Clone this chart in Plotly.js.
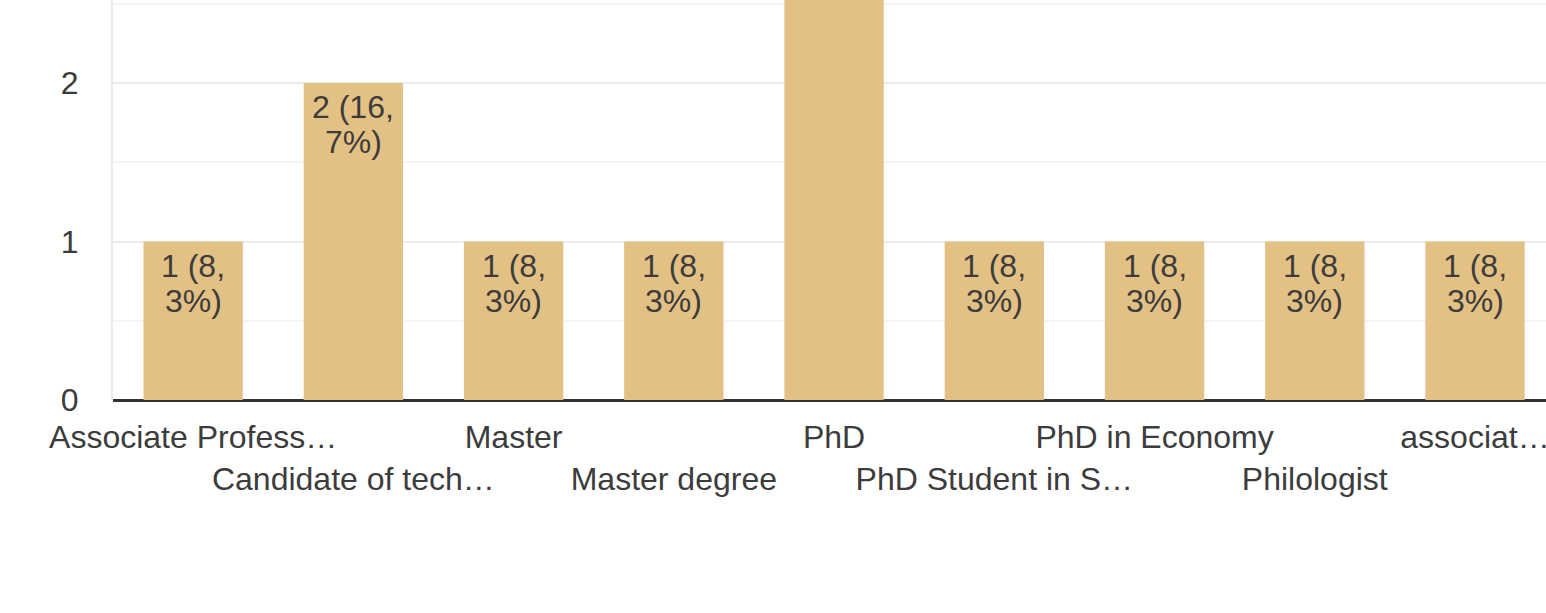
<!DOCTYPE html>
<html>
<head>
<meta charset="utf-8">
<script src="https://cdn.plot.ly/plotly-3.0.1.min.js"></script>
<style>
  html, body { margin: 0; padding: 0; background: #ffffff; }
  #chart { width: 1546px; height: 613px; }
</style>
</head>
<body>
<div id="chart"></div>
<script>
// Data
const categories = [
  "Associate Profess…",
  "Candidate of tech…",
  "Master",
  "Master degree",
  "PhD",
  "PhD Student in S…",
  "PhD in Economy",
  "Philologist",
  "associat…"
];
const counts = [1, 2, 1, 1, 3, 1, 1, 1, 1];
// bar labels, as wrapped in the reference (line 1 / line 2)
const labelLine1 = ["1 (8,", "2 (16,", "1 (8,", "1 (8,", "3", "1 (8,", "1 (8,", "1 (8,", "1 (8,"];
const labelLine2 = ["3%)", "7%)", "3%)", "3%)", "(25%)", "3%)", "3%)", "3%)", "3%)"];
// staggered tick labels: odd ones on a second row
const tickLabels = categories.map((c, i) => (i % 2 === 1 ? "<br>" + c : c));

const FONT = '"Liberation Sans", Arial, sans-serif';
const TXT = '#3c3c3c';
const FS = 32;

const trace = {
  type: 'bar',
  x: categories,
  y: counts,
  marker: { color: '#e3c184', line: { width: 0 } },
  hoverinfo: 'none'
};

const annotations = [];
categories.forEach((c, i) => {
  [[labelLine1[i], -24], [labelLine2[i], -59]].forEach(([t, s]) => {
    annotations.push({
      x: c, y: counts[i], xref: 'x', yref: 'y',
      text: t, showarrow: false,
      xanchor: 'center', yanchor: 'middle', yshift: s,
      font: { family: FONT, size: FS, color: TXT }
    });
  });
});

const layout = {
  width: 1546,
  height: 613,
  margin: { l: 113, r: 0, t: 0, b: 213, pad: 0 },
  paper_bgcolor: '#ffffff',
  plot_bgcolor: '#ffffff',
  showlegend: false,
  bargap: 0.38,
  font: { family: FONT, size: FS, color: TXT },
  annotations: annotations,
  xaxis: {
    type: 'category',
    range: [-0.5, 8.443],
    tickmode: 'array',
    tickvals: categories,
    ticktext: tickLabels,
    tickangle: 0,
    ticks: '',
    showgrid: false,
    showline: false,
    zeroline: false,
    ticklabelstandoff: 15,
    tickfont: { family: FONT, size: FS, color: TXT },
    automargin: false,
    fixedrange: true
  },
  yaxis: {
    range: [0, 2.524],
    tickmode: 'linear',
    tick0: 0,
    dtick: 1,
    ticks: '',
    showgrid: true,
    gridcolor: '#ebebeb',
    gridwidth: 2,
    minor: { dtick: 0.5, showgrid: true, gridcolor: '#f4f4f4', gridwidth: 2, ticks: '' },
    zeroline: true,
    zerolinecolor: '#333333',
    zerolinewidth: 3,
    showline: true,
    linecolor: '#ebebeb',
    linewidth: 2,
    ticklabelstandoff: 26,
    tickfont: { family: FONT, size: FS, color: TXT },
    automargin: false,
    fixedrange: true
  }
};

Plotly.newPlot('chart', [trace], layout, { displayModeBar: false, staticPlot: true });
</script>
</body>
</html>
